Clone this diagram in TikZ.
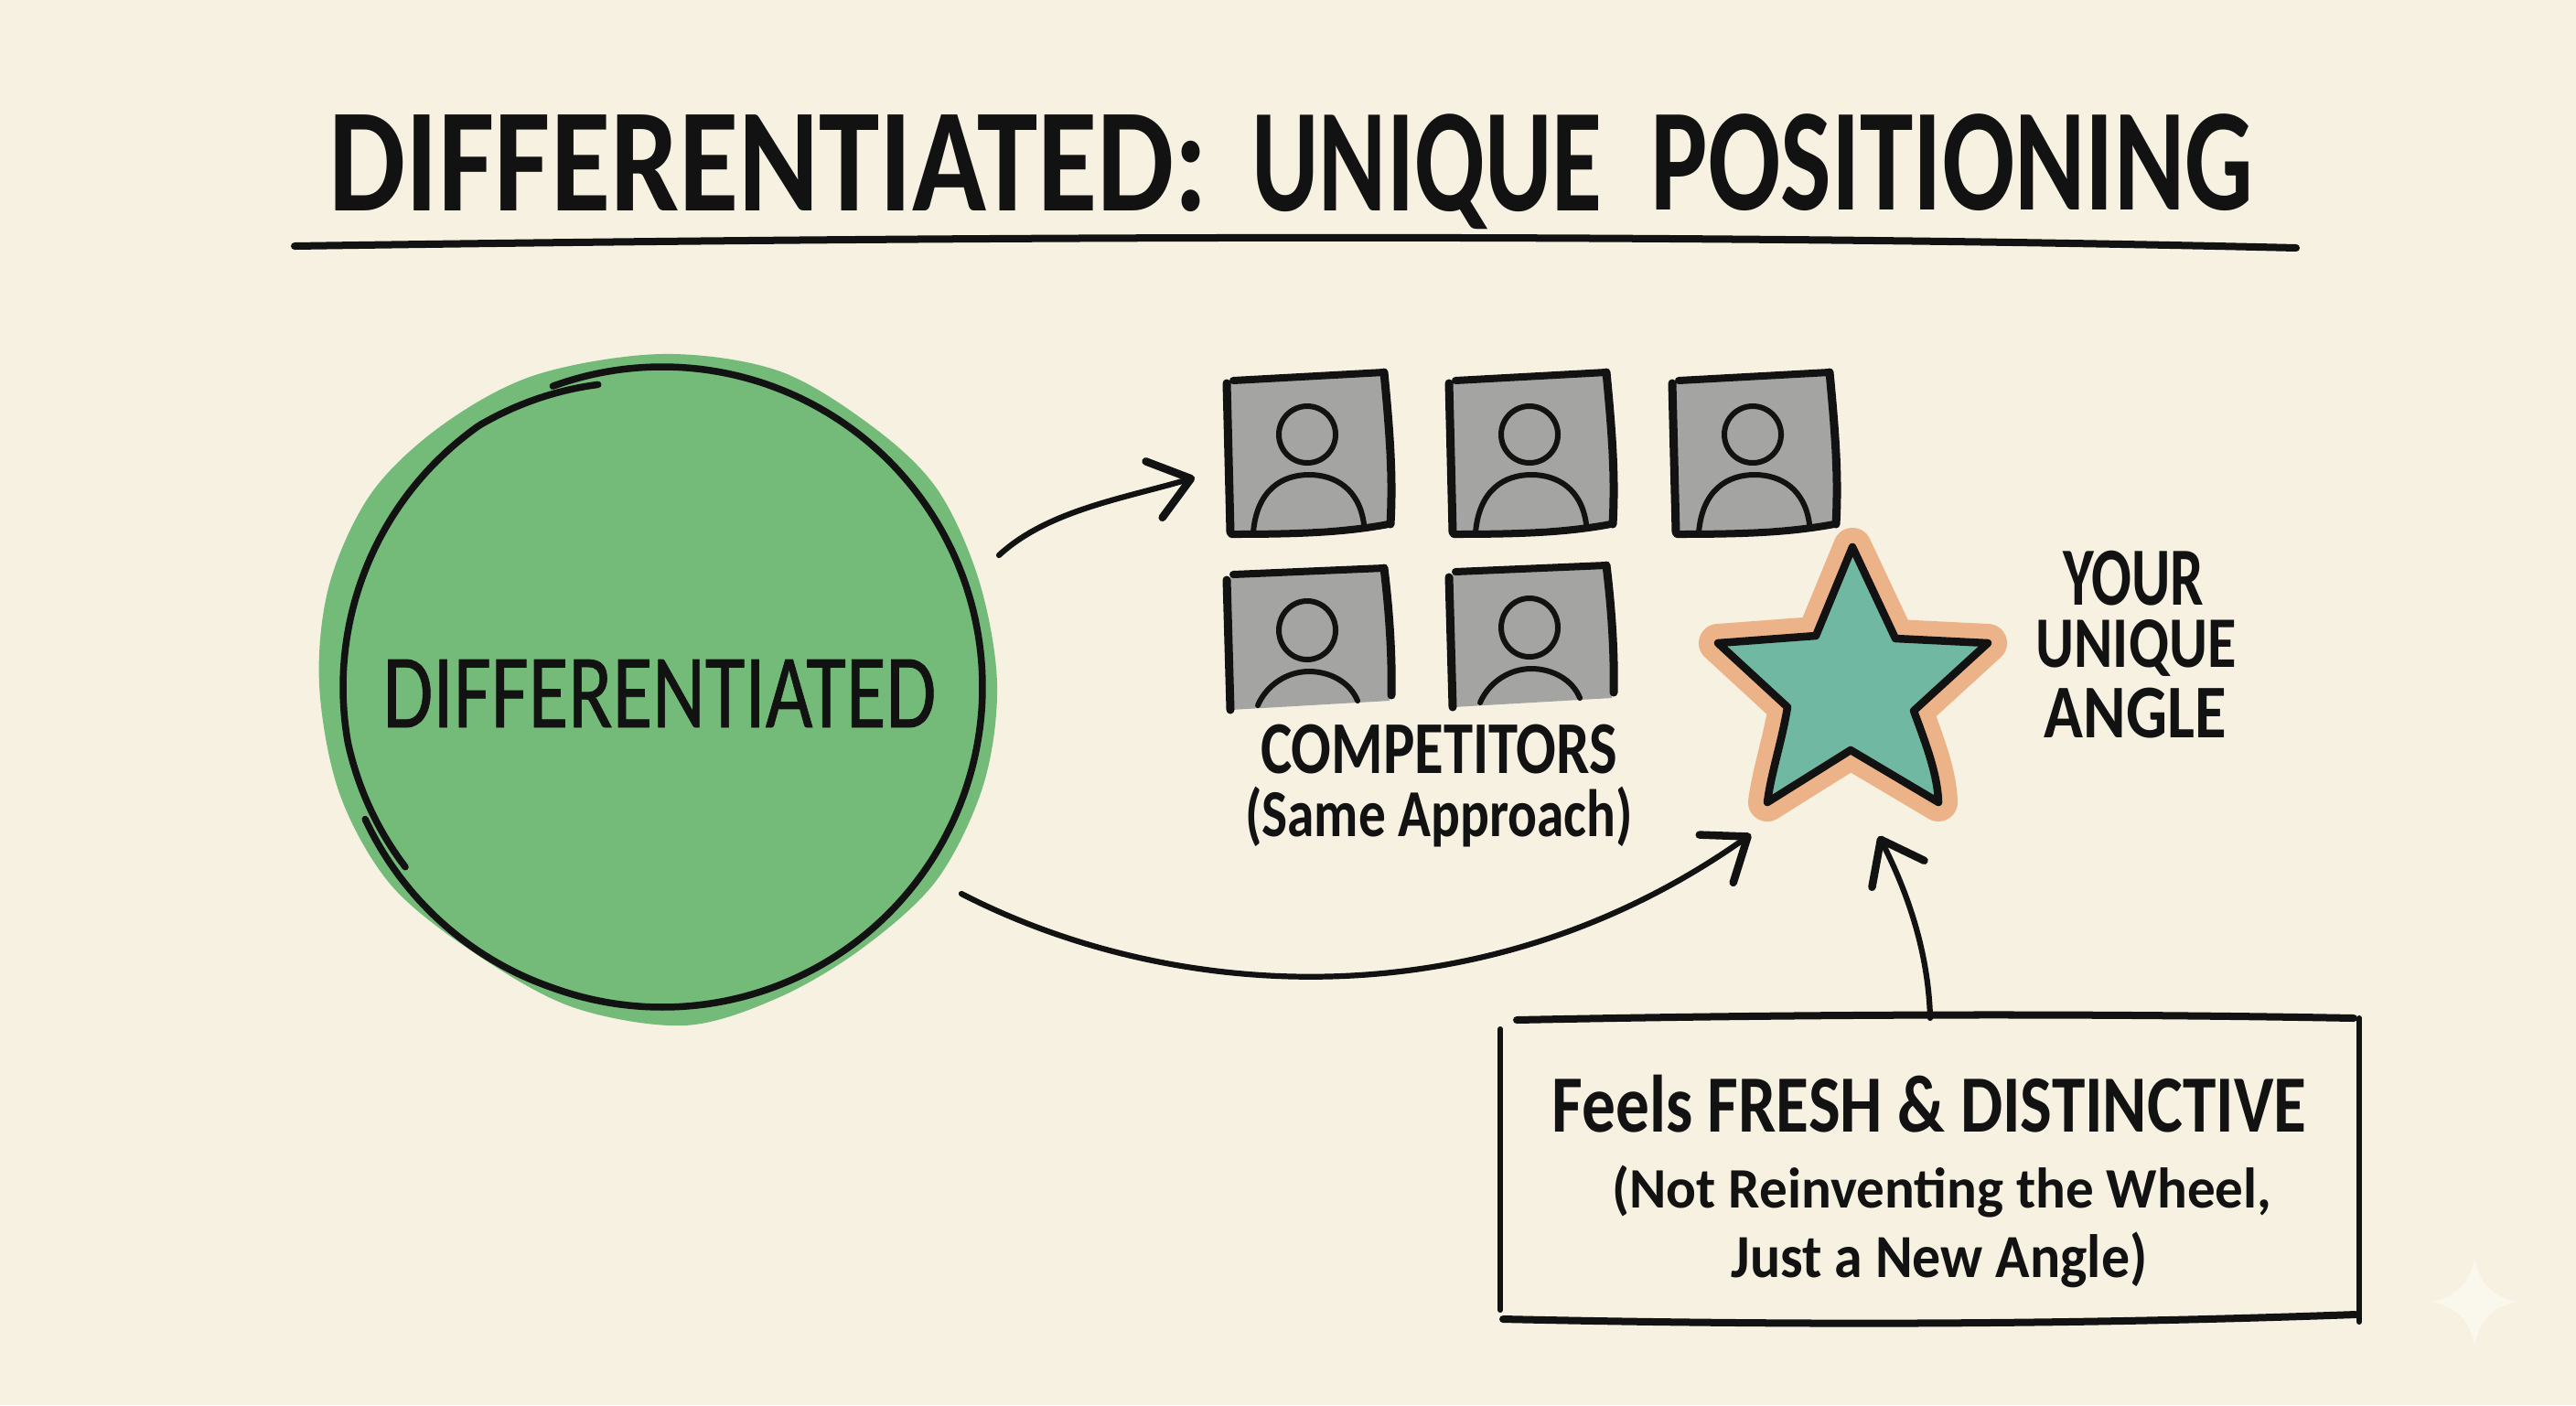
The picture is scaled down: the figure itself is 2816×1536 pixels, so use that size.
\documentclass[tikz,border=0pt]{standalone}
\usepackage{fontspec}
\usepackage{graphicx}
\setmainfont{Carlito}
\newfontfamily\midfont[FakeBold=0.7]{Carlito}
\usetikzlibrary{arrows.meta}
\definecolor{paper}{HTML}{F6F1E1}
\definecolor{ink}{HTML}{121212}
\definecolor{leaf}{HTML}{74BB7A}
\definecolor{slate}{HTML}{A4A4A3}
\definecolor{sea}{HTML}{70B8A2}
\definecolor{peach}{HTML}{ECB388}
\definecolor{glint}{HTML}{FAF7EC}
\newlength\pxu
\setlength\pxu{0.01cm}
\newcommand{\fitted}[3]{\resizebox*{#1\pxu}{#2\pxu}{\fontsize{\dimexpr #2\pxu*145/100\relax}{\dimexpr #2\pxu*170/100\relax}\selectfont\bfseries #3}}
\newcommand{\fittedmid}[3]{\resizebox*{#1\pxu}{#2\pxu}{\fontsize{\dimexpr #2\pxu*145/100\relax}{\dimexpr #2\pxu*170/100\relax}\selectfont\midfont #3}}
\tikzset{
  label text/.style={inner sep=0pt,outer sep=0pt,text=ink,anchor=center},
  pen/.style={draw=ink,line width=0.06cm,line cap=round,line join=round},
  ring pen/.style={draw=ink,line width=0.075cm,line cap=round,line join=round},
  heavy pen/.style={draw=ink,line width=0.08cm,line cap=round,line join=round},
  side pen/.style={draw=ink,line width=0.09cm,line cap=round,line join=round},
  link/.style={draw=ink,line width=0.062cm,line cap=round,
    -{Straight Barb[length=0.42cm,width=0.64cm,line width=0.085cm,round]}},
}
\newcommand{\facefull}[2]{%
  \begin{scope}[shift={(#1,#2)}]
    \fill[slate] (1345,415) -- (1513,408) -- (1518,573) -- (1346,584) -- cycle;
    \draw[heavy pen] (1348,416) -- (1513,407);
    \draw[side pen] (1341,419) -- (1345,582);
    \draw[side pen] (1513,407) .. controls (1519,470) and (1523,520) .. (1520,573);
    \draw[heavy pen] (1346,584) .. controls (1420,584) and (1470,582) .. (1518,573);
    \draw[pen] (1429,475) ellipse (31 and 31);
    \draw[pen] (1370,582) .. controls (1374,535) and (1402,519) .. (1431,519)
      .. controls (1460,519) and (1486,535) .. (1491,573);
  \end{scope}}
\newcommand{\facecut}[2]{%
  \begin{scope}[shift={(#1,#2)}]
    \fill[slate] (1345,627) -- (1513,620) -- (1519,766) -- (1345,776) -- cycle;
    \draw[heavy pen] (1348,628) -- (1513,621);
    \draw[side pen] (1341,634) -- (1345,776);
    \draw[side pen] (1513,621) .. controls (1519,670) and (1522,720) .. (1521,760);
    \draw[pen] (1429,689) ellipse (31 and 32);
    \draw[pen] (1375,771) .. controls (1385,748) and (1408,734) .. (1431,734)
      .. controls (1454,734) and (1476,746) .. (1484,766);
  \end{scope}}
\begin{document}
\begin{tikzpicture}[x=0.01cm,y=-0.01cm]
\useasboundingbox (0,0) rectangle (2816,1536);
\fill[paper] (0,0) rectangle (2816,1536);

% title
\node[label text] (titleA) at (840,179) {\fitted{961}{106}{DIFFERENTIATED:}};
\node[label text] (titleB) at (1560,188) {\fitted{383}{126}{UNIQUE}};
\node[label text] (titleC) at (2134,178) {\fitted{659}{106}{POSITIONING}};
\coordinate (ruleL) at (322,269);
\coordinate (ruleR) at (2510,271);
\draw[heavy pen] (ruleL) .. controls (1000,259) and (1800,254) .. (ruleR);

% big circle
\fill[leaf] plot[smooth cycle,tension=0.55] coordinates {
  (723,387) (850,405) (952,465) (1024,534) (1070,634) (1090,748) (1075,858)
  (1024,962) (942,1037) (850,1091) (748,1121) (626,1101) (519,1042) (427,967)
  (371,867) (349,748) (360,639) (406,539) (483,465) (585,410)};
\draw[ring pen] plot[smooth,samples=120,domain=204:470,variable=\a]
  ({724+(350+5.5*max(0,(250-\a)/46))*cos(\a)},
   {751-(350+5.5*max(0,(250-\a)/46))*sin(\a)});
\draw[ring pen] plot[smooth,samples=60,domain=102:215,variable=\a]
  ({724+(349-11*max(0,(125-\a)/23)-6*max(0,(\a-190)/25))*cos(\a)},
   {751-(349-11*max(0,(125-\a)/23)-6*max(0,(\a-190)/25))*sin(\a)});
\node[label text] (diff) at (721,758) {\fittedmid{605}{74}{DIFFERENTIATED}};

% competitors
\facefull{0}{0}
\facefull{243}{0}
\facefull{487}{0}
\facecut{0}{0}
\facecut{243}{-3}
\node[label text] (comp) at (1573,819) {\fitted{390}{54}{COMPETITORS}};
\node[label text] (same) at (1573,893) {\fitted{424}{66}{(Same Approach)}};

% star
\coordinate (s1) at (2025,598);
\coordinate (s2) at (2072,698);
\coordinate (s3) at (2173,703);
\coordinate (s4) at (2092,777);
\coordinate (s5) at (2119,877);
\coordinate (s6) at (2023,820);
\coordinate (s7) at (1932,877);
\coordinate (s8) at (1954,773);
\coordinate (s9) at (1878,703);
\coordinate (s10) at (1985,695);
\draw[draw=peach,fill=peach,line width=0.42cm,line join=round]
  (s1)--(s2)--(s3)--(s4) .. controls (2104,810) and (2118,845) .. (s5)
  --(s6)--(s7) .. controls (1936,845) and (1948,810) .. (s8)
  --(s9)--(s10)--cycle;
\draw[draw=ink,fill=sea,line width=0.085cm,line join=round]
  (s1)--(s2)--(s3)--(s4) .. controls (2104,810) and (2118,845) .. (s5)
  --(s6)--(s7) .. controls (1936,845) and (1948,810) .. (s8)
  --(s9)--(s10)--cycle;
\node[label text] (your) at (2332,632) {\fitted{154}{60}{YOUR}};
\node[label text] (unique) at (2335,708) {\fitted{219}{62}{UNIQUE}};
\node[label text] (angle) at (2334,780) {\fitted{199}{55}{ANGLE}};

% message box
\node[inner sep=0pt,outer sep=0pt,minimum width=9.38cm,minimum height=3.32cm] (box) at (2110,1279) {};
\draw[heavy pen] (1658,1115) .. controls (2000,1108) and (2300,1108) .. (2573,1113);
\draw[heavy pen] (1643,1442) .. controls (2000,1450) and (2300,1447) .. (2575,1437);
\draw[pen] (1640,1125) -- (1640,1432);
\draw[pen] (2579,1113) -- (2579,1445);
\node[label text] (fresh) at (2109,1207) {\fitted{825}{63}{Feels FRESH \& DISTINCTIVE}};
\node[label text] (wheel) at (2123,1303) {\fitted{721}{57}{(Not Reinventing the Wheel,}};
\node[label text] (newangle) at (2120,1377) {\fitted{455}{61}{Just a New Angle)}};

% connectors
\coordinate (a1s) at (1092,607);
\coordinate (a1e) at (1306,522);
\coordinate (a2s) at (1051,977);
\coordinate (a2e) at (1914,912);
\coordinate (a3e) at (2054,914);
\draw[link] (a1s) .. controls (1145,558) and (1228,545) .. (a1e);
\draw[link] (a2s) .. controls (1280,1095) and (1620,1120) .. (a2e);
\draw[link] (box.north) .. controls (2108,1040) and (2085,975) .. (a3e);

% corner sparkle
\fill[glint] (2705,1376) .. controls (2712,1405) and (2725,1417) .. (2751,1423)
  .. controls (2725,1429) and (2712,1441) .. (2705,1470)
  .. controls (2698,1441) and (2685,1429) .. (2659,1423)
  .. controls (2685,1417) and (2698,1405) .. (2705,1376) -- cycle;
\end{tikzpicture}
\end{document}
